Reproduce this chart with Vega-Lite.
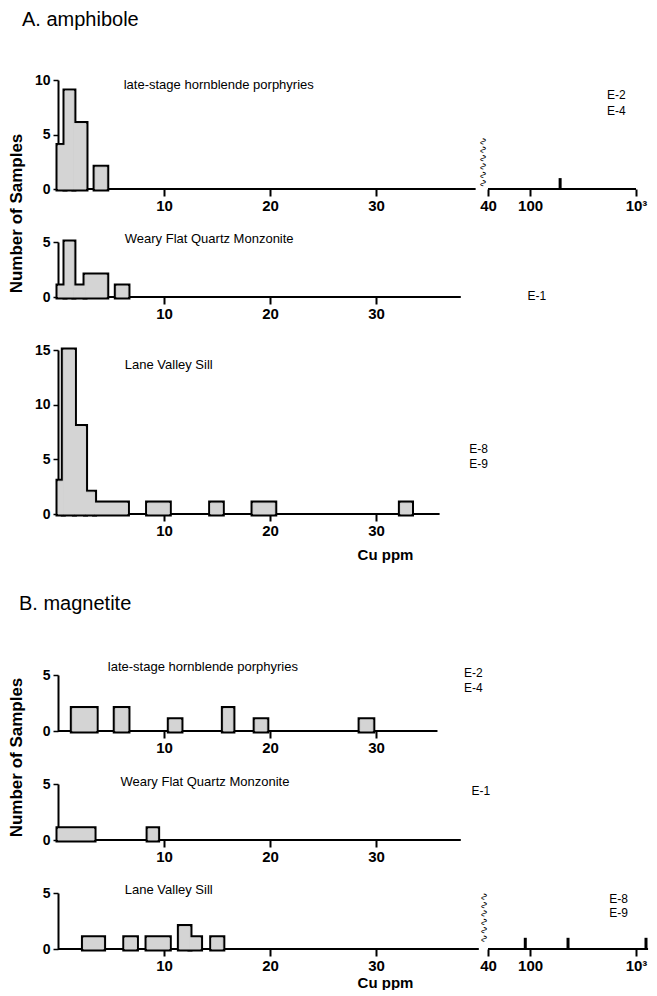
{
  "$schema": "https://vega.github.io/schema/vega-lite/v6.json",
  "background": "white",
  "padding": {"left": 7, "top": 10, "right": 0, "bottom": 0},
  "bounds": "flush",
  "spacing": 53,
  "config": {
    "view": {"stroke": null},
    "font": "Liberation Sans",
    "axis": {"grid": false, "domainColor": "black", "domainWidth": 2, "tickColor": "black", "tickWidth": 1.5, "tickSize": 5, "labelColor": "black", "labelFont": "Liberation Sans", "labelFontWeight": "bold", "titleColor": "black", "titleFont": "Liberation Sans", "titleFontWeight": "bold"},
    "axisX": {"domain": false, "ticks": true, "tickSize": 7, "tickWidth": 2, "labelFontSize": 15, "labelPadding": 2, "labelFlush": false},
    "axisY": {"labelFontSize": 14, "labelPadding": 3},
    "text": {"font": "Liberation Sans", "color": "black"}
  },
  "datasets": {
    "a1": [{"lo": 0, "hi": 0.66, "n": 4}, {"lo": 0.66, "hi": 1.5, "n": 9}, {"lo": 1.5, "hi": 2.64, "n": 6}, {"lo": 3.5, "hi": 4.6, "n": 2}],
    "a1log": [{"cu": 192, "n": 1}],
    "a2": [{"lo": 0, "hi": 0.66, "n": 1}, {"lo": 0.66, "hi": 1.5, "n": 5}, {"lo": 1.5, "hi": 2.55, "n": 1}, {"lo": 2.55, "hi": 4.6, "n": 2}, {"lo": 5.5, "hi": 6.6, "n": 1}],
    "a3": [{"lo": 0, "hi": 0.5, "n": 3}, {"lo": 0.5, "hi": 1.55, "n": 15}, {"lo": 1.55, "hi": 2.6, "n": 8}, {"lo": 2.6, "hi": 3.45, "n": 2}, {"lo": 3.45, "hi": 6.55, "n": 1}, {"lo": 8.45, "hi": 10.5, "n": 1}, {"lo": 14.4, "hi": 15.5, "n": 1}, {"lo": 18.4, "hi": 20.45, "n": 1}, {"lo": 32.3, "hi": 33.35, "n": 1}],
    "b1": [{"lo": 1.35, "hi": 3.6, "n": 2}, {"lo": 5.4, "hi": 6.6, "n": 2}, {"lo": 10.5, "hi": 11.6, "n": 1}, {"lo": 15.6, "hi": 16.5, "n": 2}, {"lo": 18.6, "hi": 19.7, "n": 1}, {"lo": 28.5, "hi": 29.7, "n": 1}],
    "b2": [{"lo": 0, "hi": 3.4, "n": 1}, {"lo": 8.5, "hi": 9.4, "n": 1}],
    "b3": [{"lo": 2.4, "hi": 4.3, "n": 1}, {"lo": 6.3, "hi": 7.4, "n": 1}, {"lo": 8.4, "hi": 10.5, "n": 1}, {"lo": 11.45, "hi": 12.45, "n": 2}, {"lo": 12.45, "hi": 13.45, "n": 1}, {"lo": 14.5, "hi": 15.55, "n": 1}],
    "b3log": [{"cu": 90, "n": 1}, {"cu": 228, "n": 1}, {"cu": 1243, "n": 1}]
  },
  "vconcat": [
    {
      "width": 583, "height": 109,
      "title": {"text": "A.  amphibole", "anchor": "start", "frame": "group", "dx": -36, "offset": 27, "baseline": "alphabetic", "fontSize": 20, "fontWeight": "normal", "font": "Liberation Sans", "color": "black"},
      "layer": [
        {"layer": [
          {"data": {"values": [{"from": 0, "to": 39.4}]}, "mark": {"type": "rule", "strokeWidth": 2, "color": "black"},
           "encoding": {"x": {"field": "from", "type": "quantitative", "title": null, "scale": {"domain": [0, 55], "nice": false}, "axis": {"values": [10, 20, 30], "orient": "bottom", "title": null, "ticks": true, "tickSize": 7, "tickWidth": 2, "tickColor": "black"}}, "x2": {"field": "to"}, "y": {"datum": 0, "title": null, "scale": {"domain": [0, 10], "nice": false}, "axis": {"values": [0, 5, 10], "title": null}}}},
          {"data": {"name": "a1"}, "mark": {"type": "rect", "fill": "#d4d4d4", "stroke": "black", "strokeWidth": 5},
           "encoding": {"x": {"field": "lo", "type": "quantitative", "title": null}, "x2": {"field": "hi"}, "y": {"field": "n", "type": "quantitative", "title": null}, "y2": {"datum": 0}}},
          {"data": {"name": "a1"}, "mark": {"type": "rect", "fill": "#d4d4d4", "stroke": "#d4d4d4", "strokeWidth": 1},
           "encoding": {"x": {"field": "lo", "type": "quantitative", "title": null}, "x2": {"field": "hi"}, "y": {"field": "n", "type": "quantitative", "title": null}, "y2": {"datum": 0}}},
          {"data": {"values": [{"label": "late-stage hornblende porphyries"}]}, "mark": {"type": "text", "align": "left", "baseline": "middle", "fontSize": 13},
           "encoding": {"x": {"datum": 6.2, "title": null}, "y": {"datum": 9.5, "title": null}, "text": {"field": "label"}}},
          {"data": {"values": [{"label": "∿∿∿∿∿∿"}]}, "mark": {"type": "text", "angle": 90, "align": "center", "baseline": "middle", "fontSize": 10, "font": "DejaVu Sans"},
           "encoding": {"x": {"datum": 40.1, "title": null}, "y": {"datum": 2.45, "title": null}, "text": {"field": "label"}}},
          {"data": {"values": [{"label": ["E-2", "E-4"]}]}, "mark": {"type": "text", "align": "left", "baseline": "alphabetic", "fontSize": 12, "lineHeight": 16},
           "encoding": {"x": {"datum": 51.8, "title": null}, "y": {"datum": 8.3, "title": null}, "text": {"field": "label"}}}
        ]},
        {"layer": [
          {"data": {"values": [{"from": 40, "to": 1000}]}, "mark": {"type": "rule", "strokeWidth": 2, "color": "black"},
           "encoding": {"x": {"field": "from", "type": "quantitative", "title": null, "scale": {"type": "log", "domain": [40, 1000], "range": [430, 578], "nice": false}, "axis": {"values": [40, 100, 1000], "orient": "bottom", "title": null, "ticks": true, "tickSize": 7, "tickWidth": 2, "tickColor": "black", "labelExpr": "datum.value >= 1000 ? '10³' : '' + datum.value"}}, "x2": {"field": "to"}, "y": {"datum": 0, "title": null, "scale": {"domain": [0, 10], "nice": false}}}},
          {"data": {"name": "a1log"}, "mark": {"type": "rule", "strokeWidth": 3, "color": "black"},
           "encoding": {"x": {"field": "cu", "type": "quantitative", "title": null}, "y": {"field": "n", "type": "quantitative", "title": null}, "y2": {"datum": 0}}}
        ]}
      ],
      "resolve": {"scale": {"x": "independent"}, "axis": {"x": "independent"}}
    },
    {
      "width": 583, "height": 55,
      "layer": [
        {"data": {"values": [{"from": 0, "to": 38}]}, "mark": {"type": "rule", "strokeWidth": 2, "color": "black"},
         "encoding": {"x": {"field": "from", "type": "quantitative", "title": null, "scale": {"domain": [0, 55], "nice": false}, "axis": {"values": [10, 20, 30], "orient": "bottom", "title": null, "ticks": true, "tickSize": 7, "tickWidth": 2, "tickColor": "black"}}, "x2": {"field": "to"}, "y": {"datum": 0, "scale": {"domain": [0, 5], "nice": false}, "axis": {"values": [0, 5], "title": "Number of Samples", "titleX": -41.5, "titleY": -29, "titleAngle": 270, "titleAlign": "center", "titleBaseline": "middle", "titleFontSize": 17}}}},
        {"data": {"name": "a2"}, "mark": {"type": "rect", "fill": "#d4d4d4", "stroke": "black", "strokeWidth": 5},
         "encoding": {"x": {"field": "lo", "type": "quantitative", "title": null}, "x2": {"field": "hi"}, "y": {"field": "n", "type": "quantitative"}, "y2": {"datum": 0}}},
        {"data": {"name": "a2"}, "mark": {"type": "rect", "fill": "#d4d4d4", "stroke": "#d4d4d4", "strokeWidth": 1},
         "encoding": {"x": {"field": "lo", "type": "quantitative", "title": null}, "x2": {"field": "hi"}, "y": {"field": "n", "type": "quantitative"}, "y2": {"datum": 0}}},
        {"data": {"values": [{"label": "Weary Flat Quartz Monzonite"}]}, "mark": {"type": "text", "align": "left", "baseline": "middle", "fontSize": 13},
         "encoding": {"x": {"datum": 6.3, "title": null}, "y": {"datum": 5.3}, "text": {"field": "label"}}},
        {"data": {"values": [{"label": "E-1"}]}, "mark": {"type": "text", "align": "left", "baseline": "middle", "fontSize": 12},
         "encoding": {"x": {"datum": 44.3, "title": null}, "y": {"datum": 0.1}, "text": {"field": "label"}}}
      ]
    },
    {
      "width": 583, "height": 164,
      "layer": [
        {"data": {"values": [{"from": 0, "to": 36}]}, "mark": {"type": "rule", "strokeWidth": 2, "color": "black"},
         "encoding": {"x": {"field": "from", "type": "quantitative", "scale": {"domain": [0, 55], "nice": false}, "axis": {"values": [10, 20, 30], "orient": "bottom", "ticks": true, "tickSize": 7, "tickWidth": 2, "tickColor": "black", "title": "Cu ppm", "titleX": 327, "titleY": 40, "titleAlign": "center", "titleBaseline": "middle", "titleFontSize": 15}}, "x2": {"field": "to"}, "y": {"datum": 0, "title": null, "scale": {"domain": [0, 15], "nice": false}, "axis": {"values": [0, 5, 10, 15], "title": null}}}},
        {"data": {"name": "a3"}, "mark": {"type": "rect", "fill": "#d4d4d4", "stroke": "black", "strokeWidth": 5},
         "encoding": {"x": {"field": "lo", "type": "quantitative"}, "x2": {"field": "hi"}, "y": {"field": "n", "type": "quantitative", "title": null}, "y2": {"datum": 0}}},
        {"data": {"name": "a3"}, "mark": {"type": "rect", "fill": "#d4d4d4", "stroke": "#d4d4d4", "strokeWidth": 1},
         "encoding": {"x": {"field": "lo", "type": "quantitative"}, "x2": {"field": "hi"}, "y": {"field": "n", "type": "quantitative", "title": null}, "y2": {"datum": 0}}},
        {"data": {"values": [{"label": "Lane Valley Sill"}]}, "mark": {"type": "text", "align": "left", "baseline": "middle", "fontSize": 13},
         "encoding": {"x": {"datum": 6.3}, "y": {"datum": 13.6, "title": null}, "text": {"field": "label"}}},
        {"data": {"values": [{"label": ["E-8", "E-9"]}]}, "mark": {"type": "text", "align": "left", "baseline": "alphabetic", "fontSize": 12, "lineHeight": 15},
         "encoding": {"x": {"datum": 38.8}, "y": {"datum": 5.55, "title": null}, "text": {"field": "label"}}}
      ]
    },
    {
      "width": 583, "height": 55,
      "data": {"values": []},
      "mark": "point",
      "encoding": {}
    },
    {
      "width": 583, "height": 56,
      "title": {"text": "B.  magnetite", "anchor": "start", "frame": "group", "dx": -39, "offset": 31, "baseline": "alphabetic", "fontSize": 20, "fontWeight": "normal", "font": "Liberation Sans", "color": "black"},
      "layer": [
        {"data": {"values": [{"from": 0, "to": 35.8}]}, "mark": {"type": "rule", "strokeWidth": 2, "color": "black"},
         "encoding": {"x": {"field": "from", "type": "quantitative", "title": null, "scale": {"domain": [0, 55], "nice": false}, "axis": {"values": [10, 20, 30], "orient": "bottom", "title": null, "ticks": true, "tickSize": 7, "tickWidth": 2, "tickColor": "black"}}, "x2": {"field": "to"}, "y": {"datum": 0, "title": null, "scale": {"domain": [0, 5], "nice": false}, "axis": {"values": [0, 5], "title": null}}}},
        {"data": {"name": "b1"}, "mark": {"type": "rect", "fill": "#d4d4d4", "stroke": "black", "strokeWidth": 5},
         "encoding": {"x": {"field": "lo", "type": "quantitative", "title": null}, "x2": {"field": "hi"}, "y": {"field": "n", "type": "quantitative", "title": null}, "y2": {"datum": 0}}},
        {"data": {"name": "b1"}, "mark": {"type": "rect", "fill": "#d4d4d4", "stroke": "#d4d4d4", "strokeWidth": 1},
         "encoding": {"x": {"field": "lo", "type": "quantitative", "title": null}, "x2": {"field": "hi"}, "y": {"field": "n", "type": "quantitative", "title": null}, "y2": {"datum": 0}}},
        {"data": {"values": [{"label": "late-stage hornblende porphyries"}]}, "mark": {"type": "text", "align": "left", "baseline": "middle", "fontSize": 13},
         "encoding": {"x": {"datum": 4.7, "title": null}, "y": {"datum": 5.7, "title": null}, "text": {"field": "label"}}},
        {"data": {"values": [{"label": ["E-2", "E-4"]}]}, "mark": {"type": "text", "align": "left", "baseline": "alphabetic", "fontSize": 12, "lineHeight": 15},
         "encoding": {"x": {"datum": 38.3, "title": null}, "y": {"datum": 4.8, "title": null}, "text": {"field": "label"}}}
      ]
    },
    {
      "width": 583, "height": 56,
      "layer": [
        {"data": {"values": [{"from": 0, "to": 38}]}, "mark": {"type": "rule", "strokeWidth": 2, "color": "black"},
         "encoding": {"x": {"field": "from", "type": "quantitative", "title": null, "scale": {"domain": [0, 55], "nice": false}, "axis": {"values": [10, 20, 30], "orient": "bottom", "title": null, "ticks": true, "tickSize": 7, "tickWidth": 2, "tickColor": "black"}}, "x2": {"field": "to"}, "y": {"datum": 0, "scale": {"domain": [0, 5], "nice": false}, "axis": {"values": [0, 5], "title": "Number of Samples", "titleX": -41.5, "titleY": -27, "titleAngle": 270, "titleAlign": "center", "titleBaseline": "middle", "titleFontSize": 17}}}},
        {"data": {"name": "b2"}, "mark": {"type": "rect", "fill": "#d4d4d4", "stroke": "black", "strokeWidth": 5},
         "encoding": {"x": {"field": "lo", "type": "quantitative", "title": null}, "x2": {"field": "hi"}, "y": {"field": "n", "type": "quantitative"}, "y2": {"datum": 0}}},
        {"data": {"name": "b2"}, "mark": {"type": "rect", "fill": "#d4d4d4", "stroke": "#d4d4d4", "strokeWidth": 1},
         "encoding": {"x": {"field": "lo", "type": "quantitative", "title": null}, "x2": {"field": "hi"}, "y": {"field": "n", "type": "quantitative"}, "y2": {"datum": 0}}},
        {"data": {"values": [{"label": "Weary Flat Quartz Monzonite"}]}, "mark": {"type": "text", "align": "left", "baseline": "middle", "fontSize": 13},
         "encoding": {"x": {"datum": 5.9, "title": null}, "y": {"datum": 5.2}, "text": {"field": "label"}}},
        {"data": {"values": [{"label": "E-1"}]}, "mark": {"type": "text", "align": "left", "baseline": "alphabetic", "fontSize": 12},
         "encoding": {"x": {"datum": 39, "title": null}, "y": {"datum": 4.0}, "text": {"field": "label"}}}
      ]
    },
    {
      "width": 583, "height": 56,
      "layer": [
        {"layer": [
          {"data": {"values": [{"from": 0, "to": 39.7}]}, "mark": {"type": "rule", "strokeWidth": 2, "color": "black"},
           "encoding": {"x": {"field": "from", "type": "quantitative", "scale": {"domain": [0, 55], "nice": false}, "axis": {"values": [10, 20, 30], "orient": "bottom", "ticks": true, "tickSize": 7, "tickWidth": 2, "tickColor": "black", "title": "Cu ppm", "titleX": 327, "titleY": 33, "titleAlign": "center", "titleBaseline": "middle", "titleFontSize": 15}}, "x2": {"field": "to"}, "y": {"datum": 0, "title": null, "scale": {"domain": [0, 5], "nice": false}, "axis": {"values": [0, 5], "title": null}}}},
          {"data": {"name": "b3"}, "mark": {"type": "rect", "fill": "#d4d4d4", "stroke": "black", "strokeWidth": 5},
           "encoding": {"x": {"field": "lo", "type": "quantitative"}, "x2": {"field": "hi"}, "y": {"field": "n", "type": "quantitative", "title": null}, "y2": {"datum": 0}}},
          {"data": {"name": "b3"}, "mark": {"type": "rect", "fill": "#d4d4d4", "stroke": "#d4d4d4", "strokeWidth": 1},
           "encoding": {"x": {"field": "lo", "type": "quantitative"}, "x2": {"field": "hi"}, "y": {"field": "n", "type": "quantitative", "title": null}, "y2": {"datum": 0}}},
          {"data": {"values": [{"label": "Lane Valley Sill"}]}, "mark": {"type": "text", "align": "left", "baseline": "middle", "fontSize": 13},
           "encoding": {"x": {"datum": 6.3}, "y": {"datum": 5.3, "title": null}, "text": {"field": "label"}}},
          {"data": {"values": [{"label": "∿∿∿∿∿∿"}]}, "mark": {"type": "text", "angle": 90, "align": "center", "baseline": "middle", "fontSize": 10, "font": "DejaVu Sans"},
           "encoding": {"x": {"datum": 40.2}, "y": {"datum": 2.8, "title": null}, "text": {"field": "label"}}},
          {"data": {"values": [{"label": ["E-8", "E-9"]}]}, "mark": {"type": "text", "align": "left", "baseline": "alphabetic", "fontSize": 12, "lineHeight": 14},
           "encoding": {"x": {"datum": 52.0}, "y": {"datum": 4.15, "title": null}, "text": {"field": "label"}}}
        ]},
        {"layer": [
          {"data": {"values": [{"from": 40, "to": 1300}]}, "mark": {"type": "rule", "strokeWidth": 2, "color": "black"},
           "encoding": {"x": {"field": "from", "type": "quantitative", "title": null, "scale": {"type": "log", "domain": [40, 1000], "range": [430, 578], "nice": false}, "axis": {"values": [40, 100, 1000], "orient": "bottom", "title": null, "ticks": true, "tickSize": 7, "tickWidth": 2, "tickColor": "black", "labelExpr": "datum.value >= 1000 ? '10³' : '' + datum.value"}}, "x2": {"field": "to"}, "y": {"datum": 0, "title": null, "scale": {"domain": [0, 5], "nice": false}}}},
          {"data": {"name": "b3log"}, "mark": {"type": "rule", "strokeWidth": 3, "color": "black"},
           "encoding": {"x": {"field": "cu", "type": "quantitative", "title": null}, "y": {"field": "n", "type": "quantitative", "title": null}, "y2": {"datum": 0}}}
        ]}
      ],
      "resolve": {"scale": {"x": "independent"}, "axis": {"x": "independent"}}
    }
  ]
}
